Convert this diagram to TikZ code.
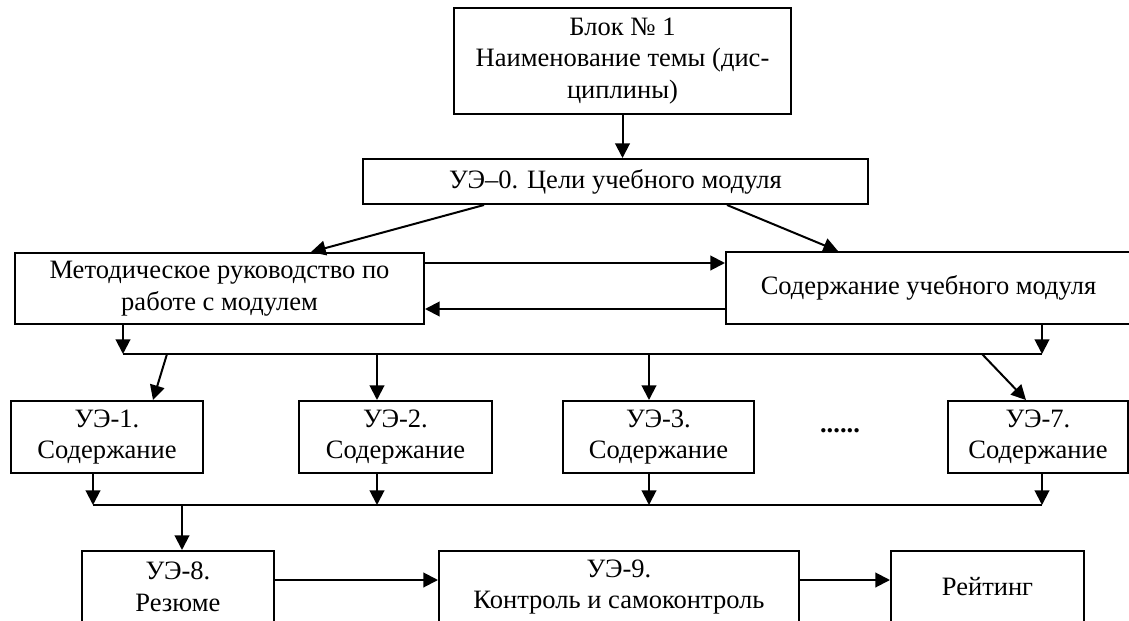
\documentclass[tikz,border=0pt]{standalone}
\usepackage{fontspec}
\setmainfont{Liberation Serif}
\usetikzlibrary{arrows.meta,calc}

\begin{document}
\begin{tikzpicture}[x=0.75pt,y=-0.75pt,>={Triangle[length=11pt,width=11pt]},line width=1.5pt,
  box/.style 2 args={draw,inner sep=0pt,align=center,minimum width=#1*0.75pt,minimum height=#2*0.75pt,
    font=\fontsize{19.9}{23.6}\selectfont}]
  \useasboundingbox (0,0) rectangle (1129,621);
  \node[box={337}{106}] (blok) at (622.5,61) {Блок № 1\\Наименование темы (дис-\\циплины)};
  \node[box={505}{45}] (ue0) at (615.5,181.5) {УЭ–0. Цели учебного модуля};
  \node[box={409}{71}] (metod) at (219.5,288.5) {Методическое руководство по\\работе с модулем};
  \node[box={405}{72}] (soder) at (928.5,288) {Содержание учебного модуля};
  \node[box={192}{72}] (ue1) at (107,437) {УЭ-1.\\Содержание};
  \node[box={193}{72}] (ue2) at (395.5,437) {УЭ-2.\\Содержание};
  \node[box={191}{72}] (ue3) at (658.5,437) {УЭ-3.\\Содержание};
  \node[font=\fontsize{19.9}{23.6}\selectfont\bfseries] (dots) at (840,431) {......};
  \node[box={180}{72}] (ue7) at (1038,437) {УЭ-7.\\Содержание};
  \node[box={192}{72}] (ue8) at (178,587) {УЭ-8.\\Резюме};
  \node[box={360}{72}] (ue9) at (619,587) {УЭ-9.\\Контроль и самоконтроль};
  \node[box={193}{72}] (rating) at (987.5,587) {Рейтинг};

  \draw[->] (blok.south) -- (blok.south |- ue0.north);
  \draw[->] ($(ue0.south west)+(122,0)$) -- ($(metod.north west)+(297,0)$);
  \draw[->] ($(ue0.south west)+(365,0)$) -- ($(soder.north west)+(113,0)$);
  \draw[->] ($(metod.north east)+(0,11)$) -- ($(soder.north west)+(0,12)$);
  \draw[->] ($(soder.north west)+(0,58)$) -- ($(metod.north east)+(0,57)$);

  % first bus
  \coordinate (b1l) at (123,354);
  \coordinate (b1r) at (1042,354);
  \draw (b1l) -- (b1r);
  \draw[->] (metod.south -| b1l) -- (b1l);
  \draw[->] (soder.south -| b1r) -- (b1r);
  \draw[->] ($(b1l)+(44,0)$) -- ($(ue1.north west)+(143,0)$);
  \coordinate (s2) at ($(ue2.north west)+(79,0)$);
  \coordinate (s3) at ($(ue3.north west)+(87,0)$);
  \draw[->] (s2 |- b1l) -- (s2);
  \draw[->] (s3 |- b1l) -- (s3);
  \draw[->] ($(b1r)+(-60,0)$) -- ($(ue7.north west)+(79,0)$);

  % second bus
  \coordinate (b2l) at (93,505);
  \coordinate (b2r) at (1042,505);
  \draw (b2l) -- (b2r);
  \draw[->] (ue1.south -| b2l) -- (b2l);
  \draw[->] (ue2.south -| s2) -- (s2 |- b2l);
  \draw[->] (ue3.south -| s3) -- (s3 |- b2l);
  \draw[->] (ue7.south -| b2r) -- (b2r);
  \coordinate (s8) at ($(ue8.north west)+(101,0)$);
  \draw[->] (s8 |- b2l) -- (s8);

  \draw[->] ($(ue8.north east)+(0,30)$) -- ($(ue9.north west)+(0,30)$);
  \draw[->] ($(ue9.north east)+(0,30)$) -- ($(rating.north west)+(0,30)$);
\end{tikzpicture}
\end{document}
